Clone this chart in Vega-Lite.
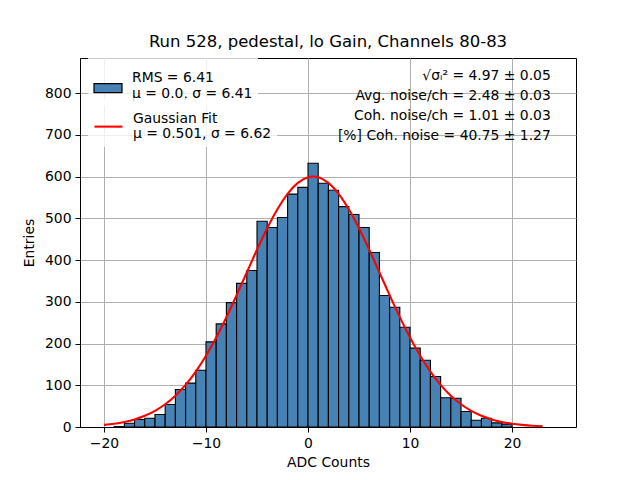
{
  "$schema": "https://vega.github.io/schema/vega-lite/v6.json",
  "autosize": {"type": "none"},
  "padding": {"left": 80, "top": 58, "right": 64, "bottom": 53},
  "width": 496,
  "height": 369,
  "background": "white",
  "title": {
    "text": "Run 528, pedestal, lo Gain, Channels 80-83",
    "fontSize": 16.5,
    "fontWeight": "normal",
    "font": "DejaVu Sans",
    "color": "black",
    "offset": 8
  },
  "datasets": {
    "hist": [
      {"lo": -19, "hi": -18, "count": 1},
      {"lo": -18, "hi": -17, "count": 9},
      {"lo": -17, "hi": -16, "count": 18},
      {"lo": -16, "hi": -15, "count": 21},
      {"lo": -15, "hi": -14, "count": 30},
      {"lo": -14, "hi": -13, "count": 54},
      {"lo": -13, "hi": -12, "count": 90},
      {"lo": -12, "hi": -11, "count": 105},
      {"lo": -11, "hi": -10, "count": 136},
      {"lo": -10, "hi": -9, "count": 204},
      {"lo": -9, "hi": -8, "count": 247},
      {"lo": -8, "hi": -7, "count": 298},
      {"lo": -7, "hi": -6, "count": 344},
      {"lo": -6, "hi": -5, "count": 375},
      {"lo": -5, "hi": -4, "count": 493},
      {"lo": -4, "hi": -3, "count": 478},
      {"lo": -3, "hi": -2, "count": 502},
      {"lo": -2, "hi": -1, "count": 558},
      {"lo": -1, "hi": 0, "count": 574},
      {"lo": 0, "hi": 1, "count": 632},
      {"lo": 1, "hi": 2, "count": 584},
      {"lo": 2, "hi": 3, "count": 567},
      {"lo": 3, "hi": 4, "count": 528},
      {"lo": 4, "hi": 5, "count": 509},
      {"lo": 5, "hi": 6, "count": 478},
      {"lo": 6, "hi": 7, "count": 418},
      {"lo": 7, "hi": 8, "count": 315},
      {"lo": 8, "hi": 9, "count": 287},
      {"lo": 9, "hi": 10, "count": 239},
      {"lo": 10, "hi": 11, "count": 189},
      {"lo": 11, "hi": 12, "count": 160},
      {"lo": 12, "hi": 13, "count": 121},
      {"lo": 13, "hi": 14, "count": 70},
      {"lo": 14, "hi": 15, "count": 69},
      {"lo": 15, "hi": 16, "count": 37},
      {"lo": 16, "hi": 17, "count": 16},
      {"lo": 17, "hi": 18, "count": 21},
      {"lo": 18, "hi": 19, "count": 10},
      {"lo": 19, "hi": 20, "count": 7}
    ],
    "fit": [
      {"adc": -20, "entries": 5.0},
      {"adc": -19, "entries": 7.8},
      {"adc": -18, "entries": 12.1},
      {"adc": -17, "entries": 18.2},
      {"adc": -16, "entries": 26.9},
      {"adc": -15, "entries": 38.7},
      {"adc": -14, "entries": 54.5},
      {"adc": -13, "entries": 74.9},
      {"adc": -12, "entries": 100.8},
      {"adc": -11, "entries": 132.7},
      {"adc": -10, "entries": 170.5},
      {"adc": -9, "entries": 214.3},
      {"adc": -8, "entries": 263.1},
      {"adc": -7, "entries": 315.8},
      {"adc": -6, "entries": 370.4},
      {"adc": -5, "entries": 424.8},
      {"adc": -4, "entries": 476.2},
      {"adc": -3, "entries": 521.7},
      {"adc": -2, "entries": 558.7},
      {"adc": -1, "entries": 584.8},
      {"adc": 0, "entries": 598.3},
      {"adc": 0.5, "entries": 600.0},
      {"adc": 1, "entries": 598.3},
      {"adc": 2, "entries": 584.8},
      {"adc": 3, "entries": 558.7},
      {"adc": 4, "entries": 521.8},
      {"adc": 5, "entries": 476.3},
      {"adc": 6, "entries": 424.9},
      {"adc": 7, "entries": 370.5},
      {"adc": 8, "entries": 315.9},
      {"adc": 9, "entries": 263.2},
      {"adc": 10, "entries": 214.4},
      {"adc": 11, "entries": 170.6},
      {"adc": 12, "entries": 132.7},
      {"adc": 13, "entries": 100.9},
      {"adc": 14, "entries": 74.9},
      {"adc": 15, "entries": 54.5},
      {"adc": 16, "entries": 38.7},
      {"adc": 17, "entries": 26.9},
      {"adc": 18, "entries": 18.2},
      {"adc": 19, "entries": 12.1},
      {"adc": 20, "entries": 7.8},
      {"adc": 21, "entries": 5.0},
      {"adc": 22, "entries": 3.1},
      {"adc": 23, "entries": 1.9}
    ]
  },
  "encoding": {
    "x": {
      "type": "quantitative",
      "scale": {"domain": [-22.35, 26.27], "nice": false, "zero": false},
      "axis": {
        "title": "ADC Counts",
        "values": [-20, -10, 0, 10, 20],
        "labelExpr": "replace(datum.label, '-', '\u2212')",
        "titlePadding": 6
      }
    },
    "y": {
      "type": "quantitative",
      "scale": {"domain": [0, 884], "nice": false},
      "axis": {
        "title": "Entries",
        "values": [0, 100, 200, 300, 400, 500, 600, 700, 800],
        "titlePadding": 8
      }
    }
  },
  "layer": [
    {
      "data": {"name": "hist"},
      "mark": {"type": "bar", "stroke": "black", "strokeWidth": 1.1, "opacity": 1},
      "encoding": {
        "x": {"field": "lo"},
        "x2": {"field": "hi"},
        "y": {"field": "count"},
        "y2": {"datum": 0},
        "fill": {
          "datum": "hist",
          "scale": {"domain": ["hist"], "range": ["#4682b4"]},
          "legend": {
            "title": null,
            "orient": "none",
            "legendX": 8,
            "legendY": 0,
            "padding": 5,
            "fillColor": "rgba(255,255,255,0.8)",
            "symbolType": "M-1,0.4H1V1.04H-1Z",
            "symbolSize": 784,
            "symbolStrokeColor": "black",
            "symbolStrokeWidth": 1.2,
            "symbolOpacity": 1,
            "labelFontSize": 13.9,
            "labelFont": "DejaVu Sans",
            "labelColor": "black",
            "labelOffset": 9,
            "labelLimit": 300,
            "labelExpr": "['RMS = 6.41', '\u03bc = 0.0, \u03c3 = 6.41\u00a0\u00a0\u00a0\u00a0\u00a0']"
          }
        }
      }
    },
    {
      "data": {"name": "fit"},
      "mark": {"type": "line", "strokeWidth": 2.1, "interpolate": "monotone"},
      "encoding": {
        "x": {"field": "adc"},
        "y": {"field": "entries"},
        "stroke": {
          "datum": "fit",
          "scale": {"domain": ["fit"], "range": ["#ff0000"]},
          "legend": {
            "title": null,
            "orient": "none",
            "legendX": 8,
            "legendY": 40,
            "padding": 5,
            "fillColor": "rgba(255,255,255,0.8)",
            "symbolType": "M-1,0.58H1",
            "symbolSize": 784,
            "symbolStrokeWidth": 2.1,
            "symbolOpacity": 1,
            "labelFontSize": 13.9,
            "labelFont": "DejaVu Sans",
            "labelColor": "black",
            "labelOffset": 9,
            "labelLimit": 300,
            "labelExpr": "['Gaussian Fit', '\u03bc = 0.501, \u03c3 = 6.62']"
          }
        }
      }
    },
    {
      "data": {"values": [{}]},
      "mark": {
        "type": "text",
        "align": "right",
        "baseline": "top",
        "fontSize": 13.9,
        "font": "DejaVu Sans",
        "color": "black",
        "lineHeight": 20
      },
      "encoding": {
        "x": {"datum": 23.8},
        "y": {"datum": 858},
        "text": {"value": ["\u221a\u03c3\u1d62\u00b2 = 4.97 \u00b1 0.05", "Avg. noise/ch = 2.48 \u00b1 0.03", "Coh. noise/ch = 1.01 \u00b1 0.03", "[%] Coh. noise = 40.75 \u00b1 1.27"]}
      }
    }
  ],
  "config": {
    "font": "DejaVu Sans",
    "view": {"stroke": "black", "strokeWidth": 1},
    "axis": {
      "zindex": 1,
      "grid": true,
      "gridColor": "#b0b0b0",
      "gridWidth": 1,
      "domainColor": "black",
      "tickColor": "black",
      "tickSize": 5,
      "labelPadding": 4,
      "labelFontSize": 13.9,
      "labelColor": "black",
      "labelFont": "DejaVu Sans",
      "titleFontSize": 13.9,
      "titleFontWeight": "normal",
      "titleColor": "black",
      "titleFont": "DejaVu Sans"
    }
  }
}
